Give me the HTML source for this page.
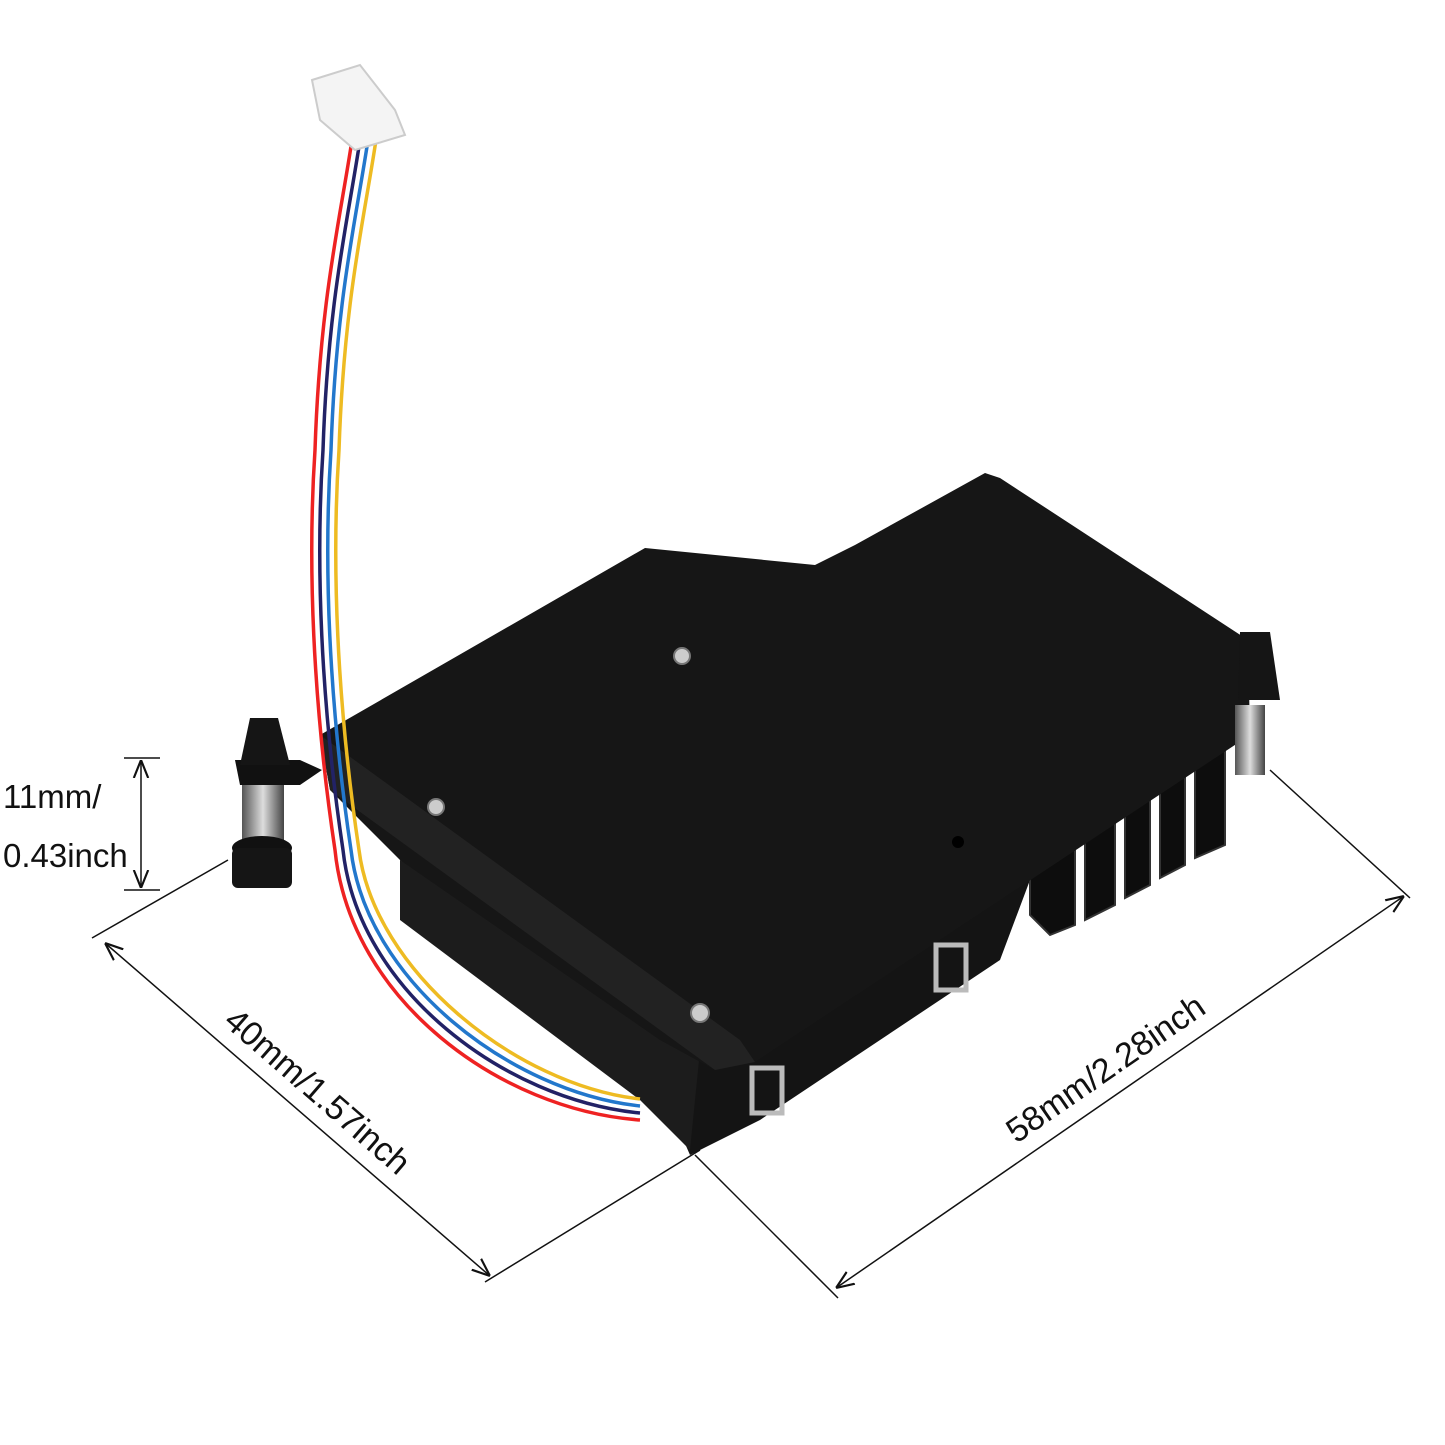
<!DOCTYPE html>
<html><head><meta charset="utf-8"><style>
html,body{margin:0;padding:0;background:#fff}
svg{display:block}
text{font-family:"Liberation Sans",sans-serif;fill:#111}
</style></head><body>
<svg width="1445" height="1445" viewBox="0 0 1445 1445" xmlns="http://www.w3.org/2000/svg">
<defs>
<marker id="a" viewBox="0 0 10 10" refX="10" refY="5" markerWidth="12" markerHeight="12" orient="auto-start-reverse"><path d="M0,1 L10,5 L0,9" fill="none" stroke="#111" stroke-width="1.2"/></marker>
<linearGradient id="sp" x1="0" x2="1"><stop offset="0" stop-color="#555"/><stop offset=".5" stop-color="#ddd"/><stop offset="1" stop-color="#444"/></linearGradient>
</defs>
<!-- lower body -->
<path d="M400,860 L640,1040 L690,1155 L760,1120 L1000,960 L1030,880 L640,900 Z" fill="#141414"/>
<path d="M400,860 L400,920 L600,1070 L640,1100 L690,1150 L700,1050 Z" fill="#1c1c1c"/>
<!-- heatsink fins -->
<g fill="#0d0d0d" stroke="#333" stroke-width="2">
<path d="M1030,850 L1075,820 L1075,925 L1050,935 L1030,915 Z"/>
<path d="M1085,815 L1115,795 L1115,905 L1085,920 Z"/>
<path d="M1125,790 L1150,775 L1150,885 L1125,898 Z"/>
<path d="M1160,770 L1185,755 L1185,865 L1160,878 Z"/>
<path d="M1195,750 L1225,735 L1225,845 L1195,858 Z"/>
</g>
<!-- left post -->
<rect x="242" y="785" width="42" height="65" fill="url(#sp)"/>
<path d="M235,760 L300,760 L322,770 L300,785 L240,785 Z" fill="#111"/>
<path d="M250,718 L278,718 L290,765 L240,765 Z" fill="#151515"/>
<ellipse cx="262" cy="848" rx="30" ry="12" fill="#111"/>
<rect x="232" y="848" width="60" height="40" rx="6" fill="#151515"/>
<!-- plate -->
<path d="M645,548 L815,565 L855,545 L985,473 L1000,478 L1248,640 L1250,735 L755,1062 L715,1070 L660,1040 L400,860 L330,790 L320,735 Z" fill="#161616"/>
<path d="M320,735 L330,790 L715,1070 L755,1062 L740,1040 Z" fill="#222"/>
<!-- screws -->
<g fill="#ccc" stroke="#777" stroke-width="2"><circle cx="682" cy="656" r="8"/><circle cx="436" cy="807" r="8"/><circle cx="700" cy="1013" r="9"/></g>
<circle cx="958" cy="842" r="6" fill="#000"/>
<!-- clips -->
<g fill="none" stroke="#bbb" stroke-width="5"><rect x="752" y="1068" width="30" height="45"/><rect x="936" y="945" width="30" height="45"/></g>
<!-- right post -->
<rect x="1235" y="705" width="30" height="70" fill="url(#sp)"/>
<path d="M1240,632 L1270,632 L1280,700 L1238,700 Z" fill="#151515"/>
<!-- cable -->
<g fill="none" stroke-width="3.5">
<path d="M352,140 C340,220 320,300 315,450 C305,600 320,750 335,850 C350,1000 500,1110 640,1120" stroke="#e22"/>
<path d="M360,140 C348,220 328,300 323,450 C313,600 328,750 343,850 C358,990 505,1100 640,1113" stroke="#226"/>
<path d="M368,140 C356,220 336,300 331,450 C321,600 336,750 351,850 C366,980 510,1092 640,1106" stroke="#27c"/>
<path d="M376,140 C364,220 344,300 339,450 C329,600 344,750 359,850 C374,970 515,1085 640,1099" stroke="#eb2"/>
</g>
<!-- connector -->
<path d="M312,80 L360,65 L395,110 L405,135 L355,150 L320,120 Z" fill="#f4f4f4" stroke="#ccc" stroke-width="2"/>
<!-- dimensions -->
<g stroke="#111" stroke-width="1.5" fill="none">
<line x1="124" y1="758" x2="160" y2="758"/><line x1="124" y1="890" x2="160" y2="890"/>
<line x1="141" y1="760" x2="141" y2="888" marker-start="url(#a)" marker-end="url(#a)"/>
<line x1="92" y1="938" x2="228" y2="860"/><line x1="485" y1="1282" x2="700" y2="1150"/>
<line x1="105" y1="943" x2="490" y2="1276" marker-start="url(#a)" marker-end="url(#a)"/>
<line x1="695" y1="1155" x2="838" y2="1298"/><line x1="1270" y1="770" x2="1410" y2="898"/>
<line x1="836" y1="1288" x2="1404" y2="896" marker-start="url(#a)" marker-end="url(#a)"/>
</g>
<text x="3" y="808" font-size="33">11mm/</text>
<text x="3" y="867" font-size="33">0.43inch</text>
<text transform="translate(310,1100) rotate(41)" font-size="34" text-anchor="middle">40mm/1.57inch</text>
<text transform="translate(1112,1078) rotate(-34.6)" font-size="34" text-anchor="middle">58mm/2.28inch</text>
</svg>
</body></html>
